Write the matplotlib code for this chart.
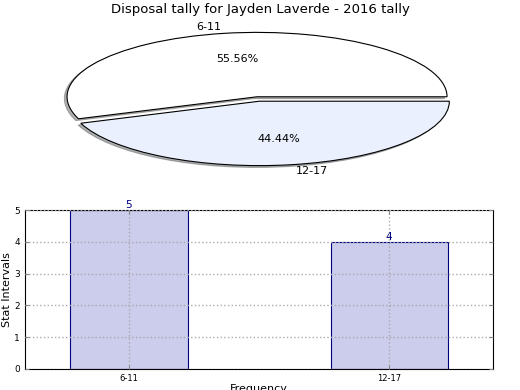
import matplotlib
matplotlib.use("Agg")
import matplotlib.pyplot as plt

title = "Disposal tally for Jayden Laverde - 2016 tally"
categories = ["6-11", "12-17"]
values = [5, 4]
pie_colors = ["#ffffff", "#eaf0fd"]

fig = plt.figure(figsize=(5.2, 3.9), dpi=100)

# Pie (squashed)
ax1 = fig.add_axes([20.7/520, 1 - 179.5/390, 475/520, 161/390])
wedges, texts, autotexts = ax1.pie(
    values, labels=categories, colors=pie_colors, autopct="%1.2f%%",
    startangle=0, explode=[0.035, 0.035],
    shadow={"ox": -0.01, "oy": -0.02, "shade": 0.6},
    wedgeprops=dict(edgecolor="black", linewidth=0.8),
    textprops=dict(fontsize=8))
ax1.set_aspect("auto")
ax1.set_xlim(-1.25, 1.25)
ax1.set_ylim(-1.25, 1.25)
fig.text(0.5, 1 - 10/390, title, ha="center", va="center", fontsize=9.5)

# Bars
ax2 = fig.add_axes([25/520, 21/390, 468/520, 159/390])
x = list(range(len(categories)))
bars = ax2.bar(x, values, width=0.45, color="#ccccec", edgecolor="navy", linewidth=0.8, zorder=2)
for xi, v in zip(x, values):
    ax2.text(xi, v, str(v), ha="center", va="bottom", color="navy", fontsize=7.5)
ax2.set_xlim(-0.4, 1.4)
ax2.set_ylim(0, 5)
ax2.set_xticks(x)
ax2.set_xticklabels(categories, fontsize=6)
ax2.set_yticks(range(0, 6))
ax2.tick_params(axis="y", labelsize=6.5, direction="in", right=True, length=3, color="#888888")
ax2.tick_params(axis="x", direction="in", top=True, length=3, color="#888888")
ax2.grid(True, linestyle=":", color="#aaaaaa", linewidth=1, zorder=3)
ax2.set_axisbelow(False)
ax2.set_ylabel("Stat Intervals", fontsize=8, labelpad=2)
ax2.set_xlabel("Frequency", fontsize=8, labelpad=1)

fig.savefig("out.png", dpi=100)
